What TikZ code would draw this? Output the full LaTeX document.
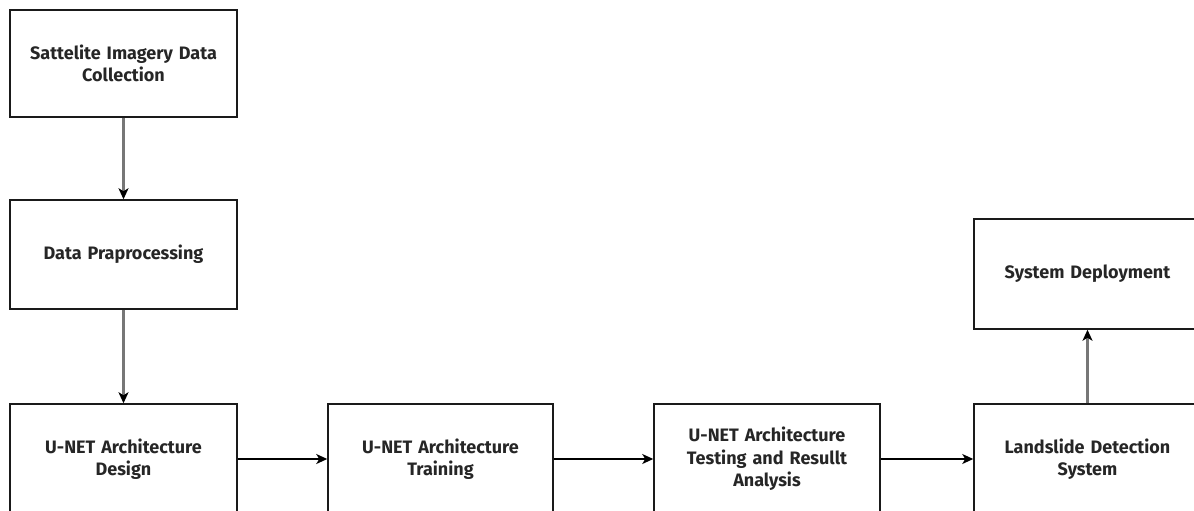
\documentclass[tikz,border=0pt]{standalone}
\usepackage{fontspec}
\setmainfont{Fira Sans}
\usetikzlibrary{arrows.meta}
\definecolor{boxline}{HTML}{1A1A1A}
\definecolor{grayarrow}{HTML}{777777}
\tikzset{
  procbox/.style={draw=boxline, line width=1.5pt, fill=white, minimum width=227pt, minimum height=108pt,
    inner sep=0pt, align=center, text width=220pt, font=\fontsize{18}{22.5}\selectfont\bfseries, text=black!85},
  grayflow/.style={draw=grayarrow, line width=2.2pt, -{Stealth[length=11pt,width=10pt,inset=3pt,color=black]}},
  blackflow/.style={draw=black, line width=1.5pt, -{Stealth[length=11pt,width=10pt,inset=3pt,color=black]}}
}
\begin{document}
\begin{tikzpicture}[x=1pt,y=-1pt]
\useasboundingbox (0,0) rectangle (1194,511);
\node[procbox, minimum height=107pt] (collect) at (123.5,63.5) {Sattelite Imagery Data\\Collection};
\node[procbox, minimum height=109pt] (prep) at (123.5,254.5) {Data Praprocessing};
\node[procbox, minimum height=110pt] (design) at (123.5,459) {U-NET Architecture\\Design};
\node[procbox, minimum width=225pt, minimum height=110pt] (train) at (440.5,459) {U-NET Architecture\\Training};
\node[procbox, minimum width=226pt, minimum height=110pt] (test) at (767,459) {U-NET Architecture\\Testing and Resullt\\Analysis};
\node[procbox, minimum height=110pt] (detect) at (1087.5,459) {Landslide Detection\\System};
\node[procbox, minimum height=110pt] (deploy) at (1087.5,274) {System Deployment};
\draw[grayflow] (collect.south) -- (prep.north);
\draw[grayflow] (prep.south) -- (design.north);
\draw[blackflow] (design.east) -- (train.west);
\draw[blackflow] (train.east) -- (test.west);
\draw[blackflow] (test.east) -- (detect.west);
\draw[grayflow] (detect.north) -- (deploy.south);
\end{tikzpicture}
\end{document}
